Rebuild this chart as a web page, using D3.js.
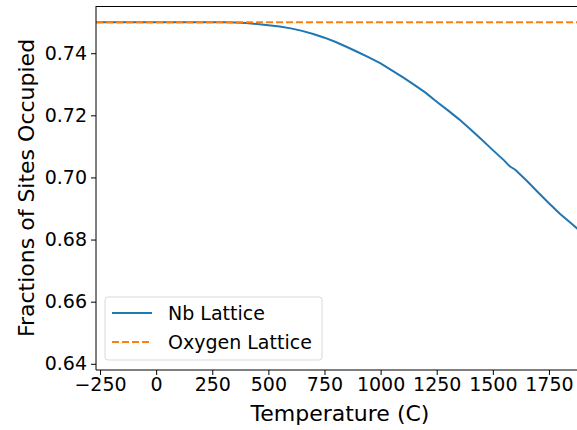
<!DOCTYPE html>
<html>
<head>
<meta charset="utf-8">
<script src="https://cdn.jsdelivr.net/npm/d3@7"></script>
<style>
  body { margin: 0; background: #fff; }
  text { font-family: "DejaVu Sans", sans-serif; fill: #000; }
</style>
</head>
<body>
<div id="chart"></div>
<script>
// Temperature (C) and fraction of Nb sites occupied
const temps = [-268, -200, -100, 0, 100, 200, 300, 350, 400, 450, 500, 550, 600, 650, 700, 750,
    800, 850, 900, 950, 1000, 1050, 1100, 1150, 1200, 1250, 1300, 1350, 1400, 1450,
    1500, 1550, 1575, 1600, 1650, 1700, 1750, 1800, 1850, 1880];
const nbValues = [0.75, 0.75, 0.75, 0.75, 0.75, 0.75, 0.75, 0.7499, 0.7497, 0.7494, 0.7490, 0.7486, 0.7480, 0.7472, 0.7462, 0.7450,
    0.7436, 0.7420, 0.7403, 0.7386, 0.7367, 0.7345, 0.7322, 0.7298, 0.7273, 0.7244, 0.7216, 0.7187, 0.7155, 0.7122,
    0.7088, 0.7055, 0.7036, 0.7025, 0.6990, 0.6953, 0.6917, 0.6882, 0.6852, 0.6833];
const oxygenValue = 0.75;
const xTicks = [-250, 0, 250, 500, 750, 1000, 1250, 1500, 1750];
const yTicks = [0.64, 0.66, 0.68, 0.70, 0.72, 0.74];
const seriesNames = ["Nb Lattice", "Oxygen Lattice"];

const W = 577, H = 430;
const margin = { top: 6, right: 0, bottom: 60, left: 96 };

const svg = d3.select("#chart")
    .append("svg")
    .attr("width", W)
    .attr("height", H);

const xScale = d3.scaleLinear()
    .domain([-268, 1875])
    .range([margin.left, W - margin.right]);

const yScale = d3.scaleLinear()
    .domain([0.638, 0.7552])
    .range([H - margin.bottom, margin.top]);

// lines
const nbData = temps.map((t, i) => ({ t: t, v: nbValues[i] }));
const line = d3.line()
    .x(d => xScale(d.t))
    .y(d => yScale(d.v));

svg.append("path")
    .datum(nbData)
    .attr("fill", "none")
    .attr("stroke", "#1f77b4")
    .attr("stroke-width", 2)
    .attr("d", line);

svg.append("path")
    .datum([{ t: -268, v: oxygenValue }, { t: 1880, v: oxygenValue }])
    .attr("fill", "none")
    .attr("stroke", "#ff7f0e")
    .attr("stroke-width", 2)
    .attr("stroke-dasharray", "7,3")
    .attr("d", line);

// axes
const xAxis = d3.axisBottom(xScale).tickValues(xTicks).tickSize(5).tickPadding(3)
    .tickFormat(d => d < 0 ? "\u2212" + Math.abs(d) : d);
const yAxis = d3.axisLeft(yScale).tickValues(yTicks).tickSize(5).tickPadding(4)
    .tickFormat(d3.format(".2f"));

const gx = svg.append("g")
    .attr("transform", `translate(0, ${H - margin.bottom})`)
    .call(xAxis);
const gy = svg.append("g")
    .attr("transform", `translate(${margin.left}, 0)`)
    .call(yAxis);

[gx, gy].forEach(g => {
    g.selectAll("text").style("font-size", "19px").attr("fill", "#000");
    g.selectAll("line").attr("stroke", "#000");
    g.select(".domain").attr("stroke", "#000");
});
gy.select(".domain").attr("d", `M0,${margin.top}V${H - margin.bottom}`);
gx.select(".domain").attr("d", `M${margin.left},0H${W}`);

// top spine
svg.append("line")
    .attr("x1", margin.left).attr("x2", W)
    .attr("y1", margin.top + 0.5).attr("y2", margin.top + 0.5)
    .attr("stroke", "#000");

// axis labels
svg.append("text")
    .attr("x", 340)
    .attr("y", 421)
    .attr("text-anchor", "middle")
    .style("font-size", "22px")
    .text("Temperature (C)");

svg.append("text")
    .attr("transform", `translate(34, ${(margin.top + H - margin.bottom) / 2}) rotate(-90)`)
    .attr("text-anchor", "middle")
    .style("font-size", "22px")
    .text("Fractions of Sites Occupied");

// legend
const legend = svg.append("g").attr("transform", "translate(105, 297)");
legend.append("rect")
    .attr("width", 217).attr("height", 63)
    .attr("rx", 3)
    .attr("fill", "#fff").attr("fill-opacity", 0.8)
    .attr("stroke", "#d9d9d9");

const legendColors = ["#1f77b4", "#ff7f0e"];
seriesNames.forEach((name, i) => {
    const y = 16 + i * 29;
    legend.append("line")
        .attr("x1", 7).attr("x2", 47)
        .attr("y1", y).attr("y2", y)
        .attr("stroke", legendColors[i])
        .attr("stroke-width", 2)
        .attr("stroke-dasharray", i === 1 ? "7,3" : null);
    legend.append("text")
        .attr("x", 63).attr("y", y + 7)
        .style("font-size", "19px")
        .text(name);
});
</script>
</body>
</html>
